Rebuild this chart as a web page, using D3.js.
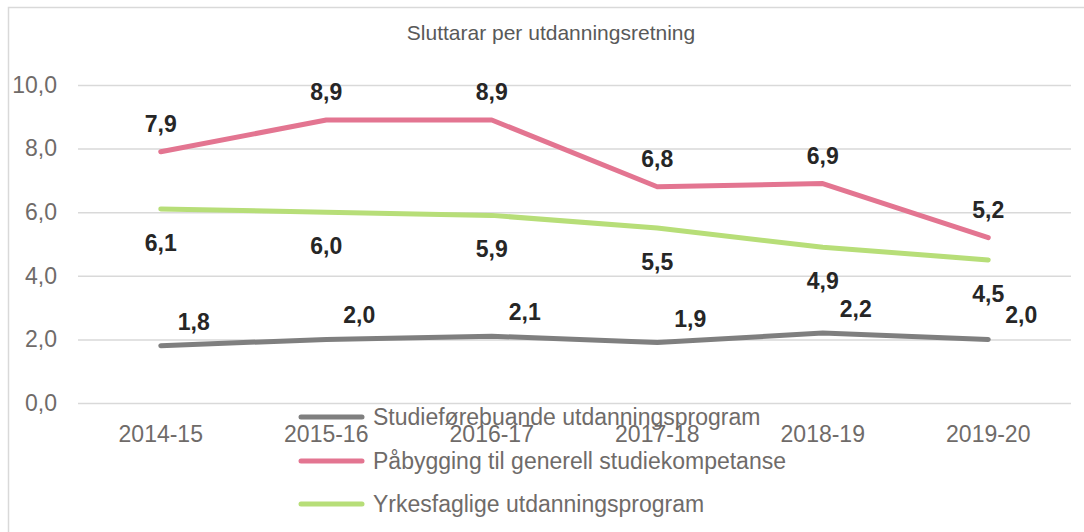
<!DOCTYPE html>
<html><head><meta charset="utf-8">
<script src="https://cdn.jsdelivr.net/npm/d3@7"></script>
<style>body{margin:0;background:#fff}svg{display:block}text{font-family:"Liberation Sans",Arial,sans-serif}</style>
</head><body>
<svg id="c" width="1084" height="532"></svg>
<script>
const categories = ["2014-15","2015-16","2016-17","2017-18","2018-19","2019-20"];
const studieforebuande = [1.8,2.0,2.1,1.9,2.2,2.0];
const pabygging = [7.9,8.9,8.9,6.8,6.9,5.2];
const yrkesfaglige = [6.1,6.0,5.9,5.5,4.9,4.5];
const yTicks = [0,2,4,6,8,10];
const seriesNames = ["Studieførebuande utdanningsprogram","Påbygging til generell studiekompetanse","Yrkesfaglige utdanningsprogram"];
const title = "Sluttarar per utdanningsretning";

const series = [
  {name: seriesNames[0], values: studieforebuande, color: "#7f7f7f", dx: 33, dy: -16},
  {name: seriesNames[1], values: pabygging, color: "#e37591", dx: 0, dy: -20},
  {name: seriesNames[2], values: yrkesfaglige, color: "#b7de78", dx: 0, dy: 42}
];

const svg = d3.select("#c");
const fmt = v => d3.format(".1f")(v).replace(".", ",");
const FS = 23;

svg.append("rect").attr("x",8.5).attr("y",7.5).attr("width",1100).attr("height",560)
  .attr("fill","none").attr("stroke","#d9d9d9").attr("stroke-width",1.5);

const x = d3.scaleBand().domain(categories).range([78,1071]);
const y = d3.scaleLinear().domain([0,10]).range([403,85]);

svg.append("text").attr("x",551).attr("y",40).attr("text-anchor","middle")
  .attr("font-size",21).attr("fill","#595959").text(title);

const yAxis = svg.append("g").attr("transform","translate(78,0)")
  .call(d3.axisLeft(y).tickValues(yTicks).tickSize(-993).tickFormat(fmt).tickPadding(21));
yAxis.select(".domain").remove();
yAxis.selectAll("line").attr("stroke","#d9d9d9").attr("stroke-width",1.5);
yAxis.selectAll("text").attr("font-size",FS).attr("fill","#6f6b69").attr("font-family","Liberation Sans, Arial, sans-serif");

const xAxis = svg.append("g").attr("transform","translate(0,403)")
  .call(d3.axisBottom(x).tickSize(0).tickPadding(23));
xAxis.select(".domain").remove();
xAxis.selectAll("text").attr("font-size",FS).attr("fill","#6f6b69").attr("font-family","Liberation Sans, Arial, sans-serif");

const cx = c => x(c) + x.bandwidth()/2;
const line = d3.line().x((d,i)=>cx(categories[i])).y(d=>y(d));

series.forEach(s => {
  svg.append("path").datum(s.values).attr("d", line).attr("fill","none")
    .attr("stroke", s.color).attr("stroke-width",5).attr("stroke-linecap","round").attr("stroke-linejoin","round");
});
series.forEach(s => {
  svg.append("g").selectAll("text").data(s.values).join("text")
    .attr("x",(d,i)=>cx(categories[i]) + s.dx)
    .attr("y",d=>y(d) + s.dy)
    .attr("text-anchor","middle").attr("font-size",FS).attr("font-weight","bold")
    .attr("fill","#262626").text(fmt);
});

const legendY = [417,461,504];
series.forEach((s,i) => {
  svg.append("line").attr("x1",301).attr("x2",362).attr("y1",legendY[i]).attr("y2",legendY[i])
    .attr("stroke",s.color).attr("stroke-width",5).attr("stroke-linecap","round");
  svg.append("text").attr("x",373).attr("y",legendY[i]+8).attr("font-size",FS)
    .attr("fill","#6f6b69").text(s.name);
});
</script>
</body></html>
